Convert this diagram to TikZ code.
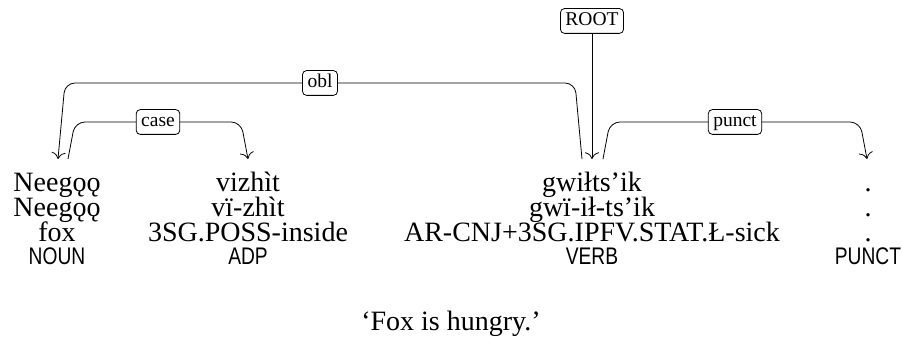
\documentclass[tikz,border=0pt]{standalone}
\usepackage{fontspec}
\setmainfont{Liberation Serif}
\newfontfamily\posfont{Liberation Sans}[FakeStretch=0.8]
\usetikzlibrary{calc,arrows.meta}
\begin{document}
\begin{tikzpicture}[x=0.5pt,y=-0.5pt,
  word/.style={anchor=base,inner sep=0pt,font=\fontsize{14}{16}\selectfont},
  posw/.style={anchor=base,inner sep=0pt,font=\posfont\fontsize{12}{14}\selectfont},
  deplabel/.style={draw,rounded corners=2pt,fill=white,inner xsep=2.5pt,inner ysep=1.6pt,
    text height=0.7em,text depth=0.22em,font=\fontsize{9.75}{11}\selectfont},
  tip/.style={-{To[scale=1.35]}},
  dep/.style={tip,rounded corners=5pt}]
\useasboundingbox (0,0) rectangle (902,351);
% row 1
\node[word] (w11) at (57,192) {Neegǫǫ};
\node[word] (w12) at (248,192) {vizhìt};
\node[word] (w13) at (592,192) {gwiłts’ik};
\node[word] (w14) at (868,192) {.};
% row 2
\node[word] (w21) at (57,217) {Neegǫǫ};
\node[word] (w22) at (248,217) {vï-zhìt};
\node[word] (w23) at (592,217) {gwï-ił-ts’ik};
\node[word] (w24) at (868,217) {.};
% row 3
\node[word] (w31) at (57,242) {fox};
\node[word] (w32) at (248,242) {3SG.POSS-inside};
\node[word] (w33) at (592,242) {AR-CNJ+3SG.IPFV.STAT.Ł-sick};
\node[word] (w34) at (868,242) {.};
% row 4
\node[posw] (p1) at (57,265) {NOUN};
\node[posw] (p2) at (248,265) {ADP};
\node[posw] (p3) at (592,265) {VERB};
\node[posw] (p4) at (868,265) {PUNCT};
% caption
\node[word] (cap) at (451,331) {‘Fox is hungry.’};
% anchor points above words
\coordinate (a1) at ($(w11.base)+(1,-33)$);
\coordinate (a1r) at ($(w11.base)+(11,-33)$);
\coordinate (a2) at ($(w12.base)+(0,-33)$);
\coordinate (a3l) at ($(w13.base)+(-10,-33)$);
\coordinate (a3) at ($(w13.base)+(0,-33)$);
\coordinate (a3r) at ($(w13.base)+(11,-33)$);
\coordinate (a4) at ($(w14.base)+(-1,-33)$);
% edges
\draw[dep] (a3l) -- ++(-7,-76) -- node[deplabel]{obl} ($(a1)+(7,-76)$) -- (a1);
\draw[dep] (a1r) -- ++(7,-37) -- node[deplabel]{case} ($(a2)+(-7,-37)$) -- (a2);
\draw[dep] (a3r) -- ++(7,-37) -- node[deplabel]{punct} ($(a4)+(-7,-37)$) -- (a4);
\node[deplabel] (root) at (592,21) {ROOT};
\draw[tip] (root) -- (a3);
\end{tikzpicture}
\end{document}
